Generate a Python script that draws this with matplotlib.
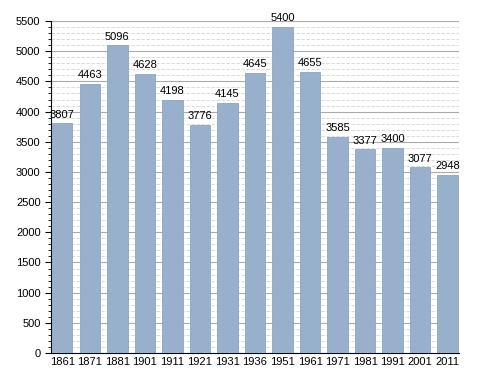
import matplotlib.pyplot as plt
from matplotlib.ticker import MultipleLocator

years = ["1861", "1871", "1881", "1901", "1911", "1921", "1931", "1936",
         "1951", "1961", "1971", "1981", "1991", "2001", "2011"]
population = [3807, 4463, 5096, 4628, 4198, 3776, 4145, 4645,
              5400, 4655, 3585, 3377, 3400, 3077, 2948]

plt.rcParams["font.family"] = ["Liberation Sans", "DejaVu Sans"]

fig = plt.figure(figsize=(4.88, 3.73), dpi=100)
ax = fig.add_axes([0.1045, 0.0536, 0.836, 0.89])

x = range(len(years))
w = 0.74
ax.bar(x, population, width=w, color="#98b0cc", edgecolor="#8ca5c2",
       linewidth=0.6, zorder=3)
for i, v in enumerate(population):
    ax.text(i, v + 60, str(v), ha="center", va="bottom", fontsize=8)

ax.set_ylim(0, 5500)
ax.set_xlim(-w / 2 - 0.04, len(years) - 1 + w / 2 + 0.04)
ax.yaxis.set_major_locator(MultipleLocator(500))
ax.yaxis.set_minor_locator(MultipleLocator(100))
ax.grid(which="major", axis="y", color="#aaaaaa", linewidth=0.8, zorder=0)
ax.grid(which="minor", axis="y", color="#d4d4d4", linewidth=0.6,
        linestyle=(0, (4, 2)), zorder=0)
ax.set_xticks(list(x))
ax.set_xticklabels(years)
ax.tick_params(axis="both", labelsize=8, length=4)
ax.tick_params(axis="x", length=0, pad=3)
ax.tick_params(axis="y", which="minor", length=2)
for s in ["top", "right"]:
    ax.spines[s].set_visible(False)

fig.savefig("out.png")
